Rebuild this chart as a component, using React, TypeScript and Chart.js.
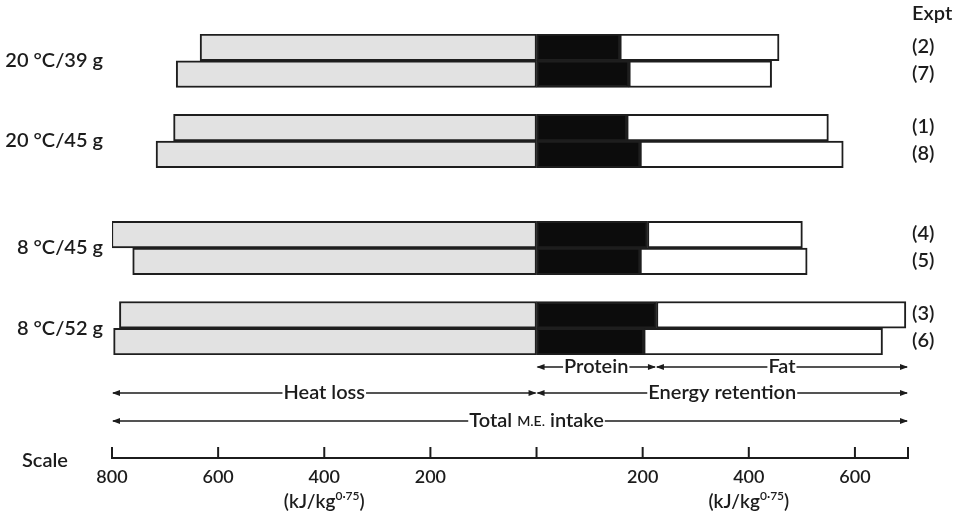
import React, { useEffect, useRef } from 'react';
import { Chart, registerables } from 'chart.js';

Chart.register(...registerables);

// Rows (with empty spacer slots between the groups)
const exptLabels = ['(2)', '(7)', '', '(1)', '(8)', '', '', '(4)', '(5)', '', '(3)', '(6)'];
const heatLoss = [634, 679, null, 684, 717, null, null, 801, 761, null, 786, 797];
const protein = [157, 174, null, 170, 195, null, null, 209, 195, null, 226, 202];
const fat = [300, 269, null, 380, 383, null, null, 292, 315, null, 470, 450];

const groupLabels = ['20 °C/39 g', '20 °C/45 g', '8 °C/45 g', '8 °C/52 g'];
const groupRows = [[0, 1], [3, 4], [7, 8], [10, 11]];

const scaleTicks = [-800, -600, -400, -200, 0, 200, 400, 600, 700];
const scaleTickLabels = ['800', '600', '400', '200', '', '200', '400', '600', ''];

const X_MIN = -800;
const X_MAX = 700;
const PROTEIN_FAT_SPLIT = 225;

const FONT = 'Lato, "Open Sans", sans-serif';
const W = '600';
const INK = '#1c1c1c';

function f(size: number) {
  return `${W} ${size}px ${FONT}`;
}

function arrowHead(ctx: CanvasRenderingContext2D, x: number, y: number, dir: number) {
  ctx.beginPath();
  ctx.moveTo(x, y);
  ctx.lineTo(x - dir * 8, y - 3);
  ctx.lineTo(x - dir * 8, y + 3);
  ctx.closePath();
  ctx.fill();
}

function spanArrow(
  ctx: CanvasRenderingContext2D,
  x1: number,
  x2: number,
  y: number,
  parts: { t: string; size: number }[],
  cx: number
) {
  let w = 0;
  parts.forEach((p) => {
    ctx.font = f(p.size);
    w += ctx.measureText(p.t).width;
  });
  const tl = cx - w / 2;
  const tr = cx + w / 2;
  ctx.lineWidth = 1.3;
  ctx.beginPath();
  ctx.moveTo(x1 + 1, y);
  ctx.lineTo(tl - 1, y);
  ctx.moveTo(tr + 1, y);
  ctx.lineTo(x2 - 1, y);
  ctx.stroke();
  arrowHead(ctx, x1, y, -1);
  arrowHead(ctx, x2, y, 1);
  let x = tl;
  ctx.textAlign = 'left';
  ctx.textBaseline = 'middle';
  parts.forEach((p) => {
    ctx.font = f(p.size);
    ctx.fillText(p.t, x, y);
    x += ctx.measureText(p.t).width;
  });
}

const overlay = {
  id: 'overlay',
  afterDraw(chart: any) {
    const ctx: CanvasRenderingContext2D = chart.ctx;
    const xs = chart.scales.x;
    const ys = chart.scales.y;
    const px = (v: number) => xs.getPixelForValue(v);
    ctx.save();
    ctx.fillStyle = INK;
    ctx.strokeStyle = INK;

    // Group labels (left)
    ctx.font = f(20);
    ctx.textAlign = 'right';
    ctx.textBaseline = 'middle';
    groupLabels.forEach((g, i) => {
      const [a, b] = groupRows[i];
      const y = (ys.getPixelForValue(a) + ys.getPixelForValue(b)) / 2;
      ctx.fillText(g, 103, y);
    });

    // Experiment labels (right)
    ctx.textAlign = 'left';
    ctx.font = f(20);
    const rx = px(X_MAX) + 4;
    ctx.fillText('Expt', rx, 14);
    exptLabels.forEach((l, i) => {
      if (!l) return;
      ctx.fillText(l, rx, ys.getPixelForValue(i) - 1);
    });

    const bottom = chart.chartArea.bottom;
    // Protein / Fat
    const y1 = bottom + 12;
    spanArrow(ctx, px(0), px(PROTEIN_FAT_SPLIT), y1, [{ t: 'Protein', size: 20 }], (px(0) + px(PROTEIN_FAT_SPLIT)) / 2);
    spanArrow(ctx, px(PROTEIN_FAT_SPLIT), px(X_MAX), y1, [{ t: 'Fat', size: 20 }], (px(PROTEIN_FAT_SPLIT) + px(X_MAX)) / 2);
    // Heat loss / Energy retention
    const y2 = bottom + 38;
    spanArrow(ctx, px(X_MIN), px(0), y2, [{ t: 'Heat loss', size: 20 }], (px(X_MIN) + px(0)) / 2);
    spanArrow(ctx, px(0), px(X_MAX), y2, [{ t: 'Energy retention', size: 20 }], (px(0) + px(X_MAX)) / 2);
    // Total
    const y3 = bottom + 66;
    spanArrow(
      ctx,
      px(X_MIN),
      px(X_MAX),
      y3,
      [
        { t: 'Total ', size: 20 },
        { t: 'M.E.', size: 14 },
        { t: ' intake', size: 20 },
      ],
      px(0)
    );

    // Scale axis
    const ay = bottom + 103;
    ctx.lineWidth = 2;
    ctx.beginPath();
    ctx.moveTo(px(X_MIN), ay);
    ctx.lineTo(px(X_MAX), ay);
    ctx.stroke();
    ctx.font = f(18);
    ctx.textAlign = 'center';
    ctx.textBaseline = 'middle';
    scaleTicks.forEach((t, i) => {
      const x = px(t);
      ctx.beginPath();
      ctx.moveTo(x, ay + 1);
      ctx.lineTo(x, ay - 11);
      ctx.stroke();
      if (scaleTickLabels[i]) ctx.fillText(scaleTickLabels[i], x, ay + 19);
    });
    ctx.textAlign = 'left';
    ctx.font = f(20);
    ctx.fillText('Scale', 22, ay + 3);

    // Units
    const unitY = ay + 44;
    [-400, 400].forEach((v) => {
      ctx.font = f(19);
      const a = '(kJ/kg';
      const c = ')';
      const wa = ctx.measureText(a).width;
      const wc = ctx.measureText(c).width;
      ctx.font = f(12);
      const b = '0·75';
      const wb = ctx.measureText(b).width;
      let x = px(v) - (wa + wb + wc) / 2;
      ctx.textAlign = 'left';
      ctx.font = f(19);
      ctx.fillText(a, x, unitY);
      x += wa;
      ctx.font = f(12);
      ctx.fillText(b, x, unitY - 6);
      x += wb;
      ctx.font = f(19);
      ctx.fillText(c, x, unitY);
    });

    ctx.restore();
  },
};

export default function App() {
  const ref = useRef<HTMLCanvasElement | null>(null);
  useEffect(() => {
    if (!ref.current) return;
    const common = {
      barPercentage: 1,
      categoryPercentage: 1,
      borderSkipped: false,
      borderWidth: 2,
      borderColor: '#1e1e1e',
    };
    const chart = new Chart(ref.current, {
      type: 'bar',
      data: {
        labels: exptLabels.map((l, i) => l || ' '.repeat(i + 1)),
        datasets: [
          { ...common, label: 'Heat loss', data: heatLoss.map((v) => (v == null ? null : -v)), backgroundColor: '#e2e2e2' },
          { ...common, label: 'Protein', data: protein, backgroundColor: '#0c0c0c' },
          { ...common, label: 'Fat', data: fat, backgroundColor: '#ffffff' },
        ],
      } as any,
      options: {
        indexAxis: 'y',
        responsive: false,
        animation: false,
        layout: { padding: { left: 112, right: 50, top: 34, bottom: 161 } },
        scales: {
          x: { type: 'linear', min: X_MIN, max: X_MAX, stacked: true, display: false },
          y: { stacked: true, display: false },
        },
        plugins: { legend: { display: false }, tooltip: { enabled: false } },
      } as any,
      plugins: [overlay],
    });
    return () => chart.destroy();
  }, []);
  return (
    <div style={{ position: 'fixed', left: 0, top: 0, width: 958, height: 516, background: '#fff' }}>
      <canvas ref={ref} width={958} height={516} style={{ display: 'block' }} />
    </div>
  );
}
